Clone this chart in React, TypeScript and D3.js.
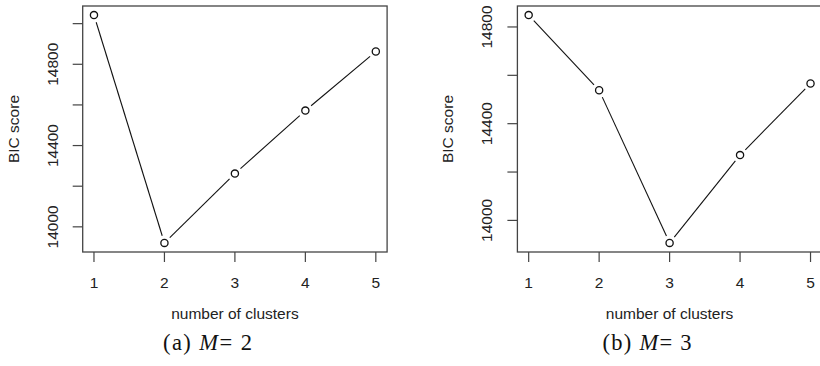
import React from "react";
import * as d3 from "d3";

// number of clusters on the x axis
const clusters = [1, 2, 3, 4, 5];

// BIC score per cluster count
const bicM2 = [15042, 13921, 14262, 14572, 14863];
const bicM3 = [14849, 14538, 13907, 14270, 14566];

// y ticks (R draws all of them but only labels every other one)
const ticksM2 = [14000, 14200, 14400, 14600, 14800, 15000];
const ticksM3 = [14000, 14200, 14400, 14600, 14800];
const labelsM2 = [14000, 14400, 14800];
const labelsM3 = [14000, 14400, 14800];

const W = 820;
const H = 366;
const top = 6;
const bottom = 252;
const boxW = 304.4;
const axisCol = "#444";
const textCol = "#222";
const fs = 15.5;
const sans = "'Liberation Sans', Arial, sans-serif";
const serif = "'Liberation Serif', 'DejaVu Serif', serif";

// R style range: data extent padded by 4% on each side
function rRange(vals: number[]): [number, number] {
  const [lo, hi] = d3.extent(vals) as [number, number];
  const pad = (hi - lo) * 0.04;
  return [lo - pad, hi + pad];
}

type PanelProps = {
  left: number;
  values: number[];
  ticks: number[];
  labels: number[];
  tag: string;
  num: string;
  captionX: number;
};

function Panel({ left, values, ticks, labels, tag, num, captionX }: PanelProps) {
  const right = left + boxW;
  const x = d3.scaleLinear().domain(rRange(clusters)).range([left, right]);
  const y = d3.scaleLinear().domain(rRange(values)).range([bottom, top]);

  const pts = clusters.map((c, i) => [x(c), y(values[i])]);
  const gap = 7.5;

  // segments with a gap round each point (type = "b")
  const segs = d3.pairs(pts).map(([p, q]) => {
    const dx = q[0] - p[0];
    const dy = q[1] - p[1];
    const d = Math.sqrt(dx * dx + dy * dy);
    const ux = dx / d;
    const uy = dy / d;
    return [p[0] + ux * gap, p[1] + uy * gap, q[0] - ux * gap, q[1] - uy * gap];
  });

  const midX = (left + right) / 2;
  const midY = (top + bottom) / 2;

  return (
    <g>
      {/* box */}
      <rect x={left} y={top} width={boxW} height={bottom - top} fill="none" stroke={axisCol} strokeWidth={1.3} />

      {/* x axis */}
      {clusters.map((c) => (
        <g key={"x" + c}>
          <line x1={x(c)} x2={x(c)} y1={bottom} y2={bottom + 10} stroke={axisCol} strokeWidth={1.2} />
          <text x={x(c)} y={287.5} textAnchor="middle" fontFamily={sans} fontSize={fs} fill={textCol}>
            {c}
          </text>
        </g>
      ))}

      {/* y axis */}
      {ticks.map((t) => (
        <line key={"y" + t} x1={left - 10} x2={left} y1={y(t)} y2={y(t)} stroke={axisCol} strokeWidth={1.2} />
      ))}
      {labels.map((t) => (
        <text
          key={"l" + t}
          transform={`translate(${left - 25},${y(t)}) rotate(-90)`}
          textAnchor="middle"
          fontFamily={sans}
          fontSize={fs}
          fill={textCol}
        >
          {t}
        </text>
      ))}

      {/* axis titles */}
      <text x={midX} y={319} textAnchor="middle" fontFamily={sans} fontSize={fs} fill={textCol}>
        number of clusters
      </text>
      <text
        transform={`translate(${left - 64},${midY}) rotate(-90)`}
        textAnchor="middle"
        fontFamily={sans}
        fontSize={fs}
        fill={textCol}
      >
        BIC score
      </text>

      {/* line and points */}
      {segs.map((s, i) => (
        <line key={"s" + i} x1={s[0]} y1={s[1]} x2={s[2]} y2={s[3]} stroke="#111" strokeWidth={1.1} />
      ))}
      {pts.map((p, i) => (
        <circle key={"p" + i} cx={p[0]} cy={p[1]} r={3.6} fill="white" stroke="#111" strokeWidth={1.3} />
      ))}

      {/* caption */}
      <text
        x={captionX}
        y={350}
        textAnchor="middle"
        fontFamily={serif}
        fontSize={22.5}
        fill="#111"
        textLength={89}
        lengthAdjust="spacing"
      >
        ({tag}) <tspan fontStyle="italic">M</tspan>= {num}
      </text>
    </g>
  );
}

export default function App() {
  return (
    <div style={{ position: "absolute", left: 0, top: 0 }}>
      <svg width={W} height={H} style={{ display: "block", background: "white" }}>
        <Panel left={82.7} values={bicM2} ticks={ticksM2} labels={labelsM2} tag="a" num="2" captionX={207.5} />
        <Panel left={517.4} values={bicM3} ticks={ticksM3} labels={labelsM3} tag="b" num="3" captionX={647} />
      </svg>
    </div>
  );
}
